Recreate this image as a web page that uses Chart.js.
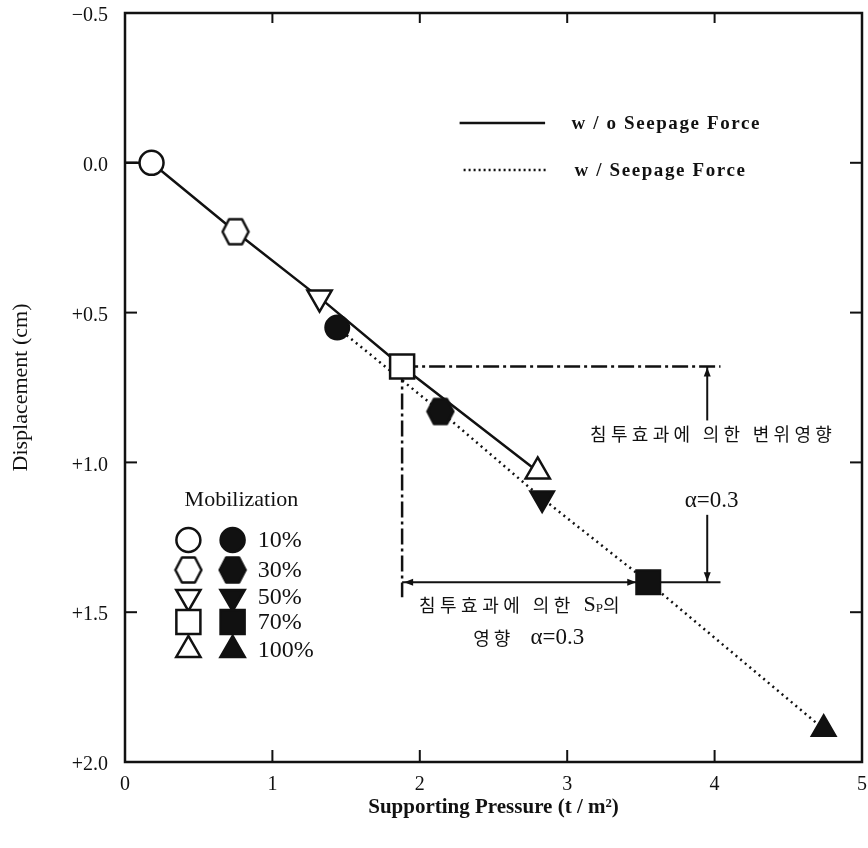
<!DOCTYPE html>
<html>
<head>
<meta charset="utf-8">
<script src="https://cdn.jsdelivr.net/npm/chart.js@4"></script>
<style>
  html, body { margin: 0; padding: 0; background: #fff; }
  #wrap { width: 868px; height: 848px; }
</style>
</head>
<body>
<div id="wrap"><canvas id="chart" width="868" height="848"></canvas></div>
<script>
// mobilization levels, same order for both series
var mobilization = ["10%", "30%", "50%", "70%", "100%"];

// w/o seepage force (open marks); first point is where the line leaves the axis
var noSeepX = [0, 0.18, 0.75, 1.32, 1.88, 2.80];
var noSeepY = [0, 0.00, 0.23, 0.45, 0.68, 1.03];

// w/ seepage force (filled marks)
var seepX = [1.44, 2.14, 2.83, 3.55, 4.74];
var seepY = [0.55, 0.83, 1.12, 1.40, 1.89];

var xTicks = [0, 1, 2, 3, 4, 5];
var yTicks = [-0.5, 0, 0.5, 1.0, 1.5, 2.0];

var INK = "#111";
var SERIF = "'Liberation Serif', 'DejaVu Serif', serif";
var KR = "'Noto Sans CJK KR', 'Noto Sans', sans-serif";

function makeHex(filled) {
  var c = document.createElement("canvas");
  c.width = 30; c.height = 30;
  var g = c.getContext("2d");
  var pts = [[2, 15], [8.5, 2.5], [21.5, 2.5], [28, 15], [21.5, 27.5], [8.5, 27.5]];
  g.beginPath();
  g.moveTo(pts[0][0], pts[0][1]);
  for (var i = 1; i < pts.length; i++) g.lineTo(pts[i][0], pts[i][1]);
  g.closePath();
  g.fillStyle = filled ? INK : "#fff";
  g.fill();
  g.lineWidth = 2.5;
  g.lineJoin = "round";
  g.strokeStyle = INK;
  g.stroke();
  return c;
}
var hexOpen = makeHex(false);
var hexFilled = makeHex(true);

// marker per mobilization level
var shapes = ["circle", "hex", "triangle", "rect", "triangle"];
var rotations = [0, 0, 180, 0, 0];
var radii = [12, 14, 14, 17, 14];

function styleFor(i, filled) {
  if (shapes[i] == "hex") return filled ? hexFilled : hexOpen;
  return shapes[i];
}

var openStyles = ["circle"].concat(shapes.map(function(s, i) { return styleFor(i, false); }));
var openRot = [0].concat(rotations);
var openRad = [0].concat(radii);
var filledStyles = shapes.map(function(s, i) { return styleFor(i, true); });

function pts(xs, ys) {
  return xs.map(function(x, i) { return { x: x, y: ys[i] }; });
}

function line(ctx, x1, y1, x2, y2) {
  ctx.beginPath();
  ctx.moveTo(x1, y1);
  ctx.lineTo(x2, y2);
  ctx.stroke();
}

function arrowHead(ctx, x, y, dir) {
  var l = 9, w = 3.5;
  ctx.beginPath();
  if (dir == "right") { ctx.moveTo(x, y); ctx.lineTo(x - l, y - w); ctx.lineTo(x - l, y + w); }
  if (dir == "left") { ctx.moveTo(x, y); ctx.lineTo(x + l, y - w); ctx.lineTo(x + l, y + w); }
  if (dir == "up") { ctx.moveTo(x, y); ctx.lineTo(x - w, y + l); ctx.lineTo(x + w, y + l); }
  if (dir == "down") { ctx.moveTo(x, y); ctx.lineTo(x - w, y - l); ctx.lineTo(x + w, y - l); }
  ctx.closePath();
  ctx.fill();
}

function text(ctx, str, x, y, font, align, spacing) {
  ctx.font = font;
  ctx.textAlign = align || "left";
  ctx.textBaseline = "middle";
  if ("letterSpacing" in ctx) ctx.letterSpacing = (spacing || 0) + "px";
  ctx.fillText(str, x, y);
  var w = ctx.measureText(str).width;
  if ("letterSpacing" in ctx) ctx.letterSpacing = "0px";
  return w;
}

// the scales should not push the plot area in from the canvas edge
function noScalePadding(s) {
  s.paddingTop = 0; s.paddingBottom = 0;
  s.paddingLeft = 0; s.paddingRight = 0;
}

// frame with inward tick marks
var framePlugin = {
  id: "frame",
  afterDraw: function(chart) {
    var ctx = chart.ctx, a = chart.chartArea;
    var xs = chart.scales.x, ys = chart.scales.y;
    ctx.save();
    ctx.strokeStyle = INK;
    ctx.lineWidth = 2.5;
    ctx.strokeRect(a.left, a.top, a.right - a.left, a.bottom - a.top);
    ctx.lineWidth = 2;
    xTicks.slice(1, -1).forEach(function(v) {
      var x = xs.getPixelForValue(v);
      line(ctx, x, a.bottom, x, a.bottom - 12);
      line(ctx, x, a.top, x, a.top + 10);
    });
    yTicks.slice(1, -1).forEach(function(v) {
      var y = ys.getPixelForValue(v);
      line(ctx, a.left, y, a.left + 12, y);
      line(ctx, a.right, y, a.right - 12, y);
    });
    ctx.restore();
  }
};

// seepage-effect dimension lines, notes and legends
var notesPlugin = {
  id: "notes",
  beforeDatasetsDraw: function(chart) {
    var ctx = chart.ctx;
    var xs = chart.scales.x, ys = chart.scales.y;
    var px = function(v) { return xs.getPixelForValue(v); };
    var py = function(v) { return ys.getPixelForValue(v); };
    var sqX = px(noSeepX[4]), sqY = py(noSeepY[4]);
    var fsX = px(seepX[3]), fsY = py(seepY[3]);
    var endX = px(4.04), dimX = px(3.95);

    ctx.save();
    ctx.strokeStyle = INK;
    ctx.fillStyle = INK;
    ctx.lineWidth = 2.5;

    // dash-dot lines from the open square
    ctx.setLineDash([16, 4, 3, 4]);
    line(ctx, sqX, sqY, endX, sqY);
    line(ctx, sqX, sqY, sqX, py(1.45));
    ctx.setLineDash([]);

    // horizontal arrow to filled square
    ctx.lineWidth = 2;
    line(ctx, sqX, fsY, fsX - 12, fsY);
    arrowHead(ctx, fsX - 12, fsY, "right");
    arrowHead(ctx, sqX + 2, fsY, "left");
    line(ctx, fsX + 12, fsY, endX, fsY);

    // vertical arrow between the two levels
    line(ctx, dimX, sqY, dimX, py(0.86));
    arrowHead(ctx, dimX, sqY + 1, "up");
    line(ctx, dimX, py(1.175), dimX, fsY);
    arrowHead(ctx, dimX, fsY - 1, "down");

    // notes
    text(ctx, "침투효과에 의한 변위영향", px(3.99), py(0.905), "18px " + KR, "center", 4.3);
    text(ctx, "α=0.3", px(3.98), py(1.13), "23px " + SERIF, "center");

    var lx = px(2.70) - 104, ly = py(1.476);
    lx += text(ctx, "침투효과에 의한 ", lx, ly, "18px " + KR, "left", 4.5);
    lx += text(ctx, "S", lx, ly, "22px " + SERIF, "left");
    lx += text(ctx, "P", lx, ly + 4, "13px " + SERIF, "left");
    text(ctx, "의", lx, ly, "18px " + KR, "left");
    var l2 = px(2.77) - 60;
    l2 += text(ctx, "영향  ", l2, py(1.586), "18px " + KR, "left", 4);
    text(ctx, "α=0.3", l2, py(1.586), "23px " + SERIF, "left");

    // series legend
    var legX1 = px(2.27), legX2 = px(2.85);
    ctx.lineWidth = 2.5;
    line(ctx, legX1, py(-0.133), legX2, py(-0.133));
    ctx.setLineDash([2, 3]);
    line(ctx, legX1 + 4, py(0.024), legX2 + 3, py(0.024));
    ctx.setLineDash([]);
    text(ctx, "w / o Seepage Force", px(3.03), py(-0.128), "bold 19px " + SERIF, "left", 1.6);
    text(ctx, "w / Seepage Force", px(3.05), py(0.028), "bold 19px " + SERIF, "left", 1.6);

    // mobilization legend
    text(ctx, "Mobilization", px(0.79), py(1.125), "22px " + SERIF, "center");
    var rowY = [1.259, 1.359, 1.449, 1.533, 1.626];
    var h = Chart.helpers;
    mobilization.forEach(function(m, i) {
      var y = py(rowY[i]);
      ctx.lineWidth = 2.5;
      ctx.strokeStyle = INK;
      ctx.fillStyle = "#fff";
      h.drawPoint(ctx, { pointStyle: styleFor(i, false), rotation: rotations[i], radius: radii[i], borderWidth: 2.5 }, px(0.43), y);
      ctx.fillStyle = INK;
      h.drawPoint(ctx, { pointStyle: styleFor(i, true), rotation: rotations[i], radius: radii[i], borderWidth: 2.5 }, px(0.73), y);
      text(ctx, m, px(0.90), y + 1, "24px " + SERIF, "left");
    });
    ctx.restore();
  }
};

var chart = new Chart(document.getElementById("chart"), {
  type: "scatter",
  data: {
    datasets: [
      {
        label: "w/o Seepage Force",
        data: pts(noSeepX, noSeepY),
        showLine: true,
        borderColor: INK,
        borderWidth: 2.5,
        pointStyle: openStyles,
        rotation: openRot,
        pointRadius: openRad,
        pointBorderWidth: 2.5,
        pointBorderColor: INK,
        pointBackgroundColor: "#fff"
      },
      {
        label: "w/Seepage Force",
        data: pts(seepX, seepY),
        showLine: true,
        borderColor: INK,
        borderWidth: 2.5,
        borderDash: [2, 4],
        pointStyle: filledStyles,
        rotation: rotations,
        pointRadius: radii,
        pointBorderWidth: 2,
        pointBorderColor: INK,
        pointBackgroundColor: INK
      }
    ]
  },
  options: {
    responsive: false,
    animation: false,
    devicePixelRatio: 1,
    layout: { autoPadding: false, padding: { left: 0, right: 6, top: 13, bottom: 0 } },
    plugins: { legend: { display: false }, tooltip: { enabled: false } },
    scales: {
      x: {
        type: "linear",
        min: 0, max: 5,
        afterFit: function(s) { s.height = 86; noScalePadding(s); },
        afterBuildTicks: function(s) { s.ticks = xTicks.map(function(v) { return { value: v }; }); },
        grid: { display: false, drawTicks: false },
        border: { display: false },
        ticks: { color: INK, padding: 11, maxRotation: 0, font: { family: SERIF, size: 20 } },
        title: {
          display: true,
          text: "Supporting Pressure (t / m²)",
          color: INK,
          font: { family: SERIF, size: 21, weight: "bold" },
          padding: { top: 0, bottom: 28 }
        }
      },
      y: {
        type: "linear",
        min: -0.5, max: 2.0,
        reverse: true,
        afterFit: function(s) { s.width = 125; noScalePadding(s); },
        afterBuildTicks: function(s) { s.ticks = yTicks.map(function(v) { return { value: v }; }); },
        grid: { display: false, drawTicks: false },
        border: { display: false },
        ticks: {
          color: INK, padding: 17, labelOffset: 3,
          font: { family: SERIF, size: 20 },
          callback: function(v) {
            if (v < 0) return "\u2212" + Math.abs(v).toFixed(1);
            if (v == 0) return "0.0";
            return "+" + v.toFixed(1);
          }
        },
        title: {
          display: true,
          text: "Displacement (cm)",
          color: INK,
          font: { family: SERIF, size: 22 },
          padding: { top: 8, bottom: 0 }
        }
      }
    }
  },
  plugins: [framePlugin, notesPlugin]
});
</script>
</body>
</html>
